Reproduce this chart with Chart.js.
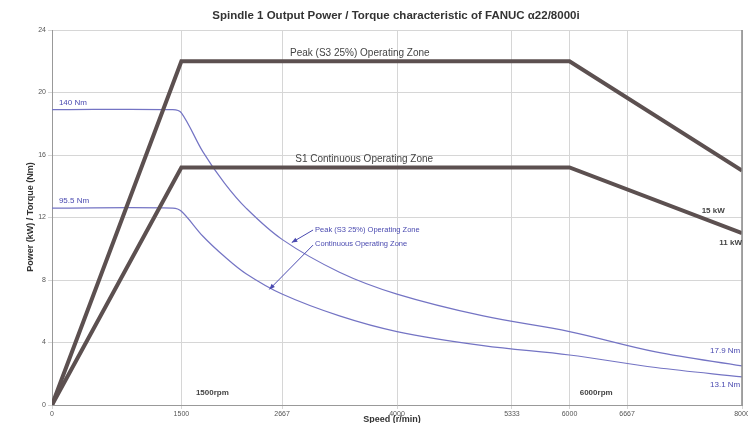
<!DOCTYPE html>
<html><head><meta charset="utf-8">
<script src="https://cdn.jsdelivr.net/npm/chart.js@4/dist/chart.umd.min.js"></script>
<style>html,body{margin:0;padding:0;background:#fff}#wrap{width:748px;height:423px}</style>
</head><body><div id="wrap"><canvas id="c" width="748" height="423"></canvas></div>
<script>
const speedTicks = [0, 1500, 2667, 4000, 5333, 6000, 6667, 8000];
const yTicks = [0, 4, 8, 12, 16, 20, 24];

const powerSpeeds = [0, 1500, 6000, 8000];
const powerShort = [0, 22, 22, 15];
const powerCont = [0, 15.2, 15.2, 11];

const torqueSpeeds = [0, 1400, 1500, 1750, 2000, 2250, 2667, 3333, 4000, 5000, 6000, 7000, 8000];
const torqueShort = [18.9, 18.9, 18.7, 16.2, 14.2, 12.6, 10.6, 8.5, 7.1, 5.7, 4.7, 3.4, 2.5];
const torqueCont = [12.6, 12.6, 12.4, 10.8, 9.5, 8.4, 7.1, 5.7, 4.7, 3.8, 3.2, 2.4, 1.8];

const pts = (xs, ys) => xs.map((x, i) => ({x, y: ys[i]}));

const annot = {
  id: 'annot',
  afterDraw(chart) {
    const {ctx, scales:{x, y}, chartArea:a} = chart;
    ctx.save();
    // right border
    ctx.strokeStyle = '#888'; ctx.lineWidth = 1.5;
    ctx.beginPath(); ctx.moveTo(a.right, a.top); ctx.lineTo(a.right, a.bottom); ctx.stroke();
    // title
    ctx.fillStyle = '#333';
    ctx.font = 'bold 11.5px "Liberation Sans", Arial, sans-serif';
    ctx.textAlign = 'center'; ctx.textBaseline = 'middle';
    ctx.fillText('Spindle 1 Output Power / Torque characteristic of FANUC \u03b122/8000i', 396, 16);
    // axis titles
    ctx.font = 'bold 9px "Liberation Sans", Arial, sans-serif';
    ctx.fillText('Speed (r/min)', 392, 420);
    ctx.save(); ctx.translate(31, 217); ctx.rotate(-Math.PI/2);
    ctx.fillText('Power (kW) / Torque (Nm)', 0, 0); ctx.restore();
    // zone labels
    ctx.fillStyle = '#444';
    ctx.font = '10px "Liberation Sans", Arial, sans-serif';
    ctx.textAlign = 'left';
    ctx.fillText('Peak (S3 25%) Operating Zone', x.getPixelForValue(2760), y.getPixelForValue(22) - 8);
    ctx.fillText('S1 Continuous Operating Zone', x.getPixelForValue(2820), y.getPixelForValue(15.2) - 8);
    ctx.font = 'bold 8px "Liberation Sans", Arial, sans-serif';
    ctx.textAlign = 'right';
    ctx.fillText('15 kW', x.getPixelForValue(7800), y.getPixelForValue(12.4));
    ctx.fillText('11 kW', x.getPixelForValue(8000), y.getPixelForValue(10.4));
    ctx.fillText('1500rpm', x.getPixelForValue(2050), y.getPixelForValue(0.75));
    ctx.fillText('6000rpm', x.getPixelForValue(6500), y.getPixelForValue(0.75));
    // blue labels
    ctx.fillStyle = '#4a4ab0';
    ctx.font = '8px "Liberation Sans", Arial, sans-serif';
    ctx.textAlign = 'left';
    ctx.fillText('140 Nm', x.getPixelForValue(80), y.getPixelForValue(18.9) - 7);
    ctx.fillText('95.5 Nm', x.getPixelForValue(80), y.getPixelForValue(12.6) - 7);
    ctx.textAlign = 'right';
    ctx.fillText('17.9 Nm', x.getPixelForValue(7980), y.getPixelForValue(3.5));
    ctx.fillText('13.1 Nm', x.getPixelForValue(7980), y.getPixelForValue(1.3));
    ctx.font = '7.5px "Liberation Sans", Arial, sans-serif';
    ctx.textAlign = 'left';
    const t1x = x.getPixelForValue(3050), t1y = y.getPixelForValue(11.2);
    const t2x = x.getPixelForValue(3050), t2y = y.getPixelForValue(10.3);
    ctx.fillText('Peak (S3 25%) Operating Zone', t1x, t1y);
    ctx.fillText('Continuous Operating Zone', t2x, t2y);
    // arrows
    const arrow = (x0, y0, x1, y1) => {
      ctx.strokeStyle = '#4a4ab0'; ctx.fillStyle = '#4a4ab0'; ctx.lineWidth = 1;
      ctx.beginPath(); ctx.moveTo(x0, y0); ctx.lineTo(x1, y1); ctx.stroke();
      const ang = Math.atan2(y1 - y0, x1 - x0);
      ctx.beginPath(); ctx.moveTo(x1, y1);
      ctx.lineTo(x1 - 6*Math.cos(ang - 0.4), y1 - 6*Math.sin(ang - 0.4));
      ctx.lineTo(x1 - 6*Math.cos(ang + 0.4), y1 - 6*Math.sin(ang + 0.4));
      ctx.closePath(); ctx.fill();
    };
    arrow(t1x - 2, t1y, x.getPixelForValue(2780), y.getPixelForValue(10.4));
    arrow(t2x - 2, t2y + 1, x.getPixelForValue(2520), y.getPixelForValue(7.4));
    ctx.restore();
  }
};

const thick = {borderColor: '#5c5050', borderWidth: 4, pointRadius: 0, tension: 0, fill: false};
const thin = {borderColor: '#7474c4', borderWidth: 1.2, pointRadius: 0, tension: 0.35, fill: false};

new Chart(document.getElementById('c'), {
  type: 'line',
  data: {
    datasets: [
      Object.assign({label: 'Power S3', data: pts(powerSpeeds, powerShort)}, thick),
      Object.assign({label: 'Power S1', data: pts(powerSpeeds, powerCont)}, thick),
      Object.assign({label: 'Torque S3', data: pts(torqueSpeeds, torqueShort)}, thin),
      Object.assign({label: 'Torque S1', data: pts(torqueSpeeds, torqueCont)}, thin)
    ]
  },
  options: {
    responsive: false,
    animation: false,
    layout: {padding: {left: 0, right: 6, top: 30, bottom: 0}},
    plugins: {legend: {display: false}, title: {display: false}, tooltip: {enabled: false}},
    scales: {
      x: {
        type: 'linear', min: 0, max: 8000,
        afterBuildTicks: s => { s.ticks = speedTicks.map(v => ({value: v})); },
        afterFit: s => { s.height = 18; s.paddingRight = 0; s.paddingLeft = 0; },
        grid: {color: '#d6d6d6', lineWidth: 1, tickLength: 4},
        border: {color: '#999'},
        ticks: {color: '#555', font: {size: 7, family: 'Liberation Sans'}, padding: 1, maxRotation: 0, autoSkip: false, callback: v => String(v)}
      },
      y: {
        min: 0, max: 24,
        afterBuildTicks: s => { s.ticks = yTicks.map(v => ({value: v})); },
        afterFit: s => { s.width = 52; },
        grid: {color: '#d6d6d6', lineWidth: 1, tickLength: 4},
        border: {color: '#999'},
        ticks: {color: '#555', font: {size: 7, family: 'Liberation Sans'}, padding: 2, callback: v => String(v)}
      }
    }
  },
  plugins: [annot]
});
</script>
</body></html>
